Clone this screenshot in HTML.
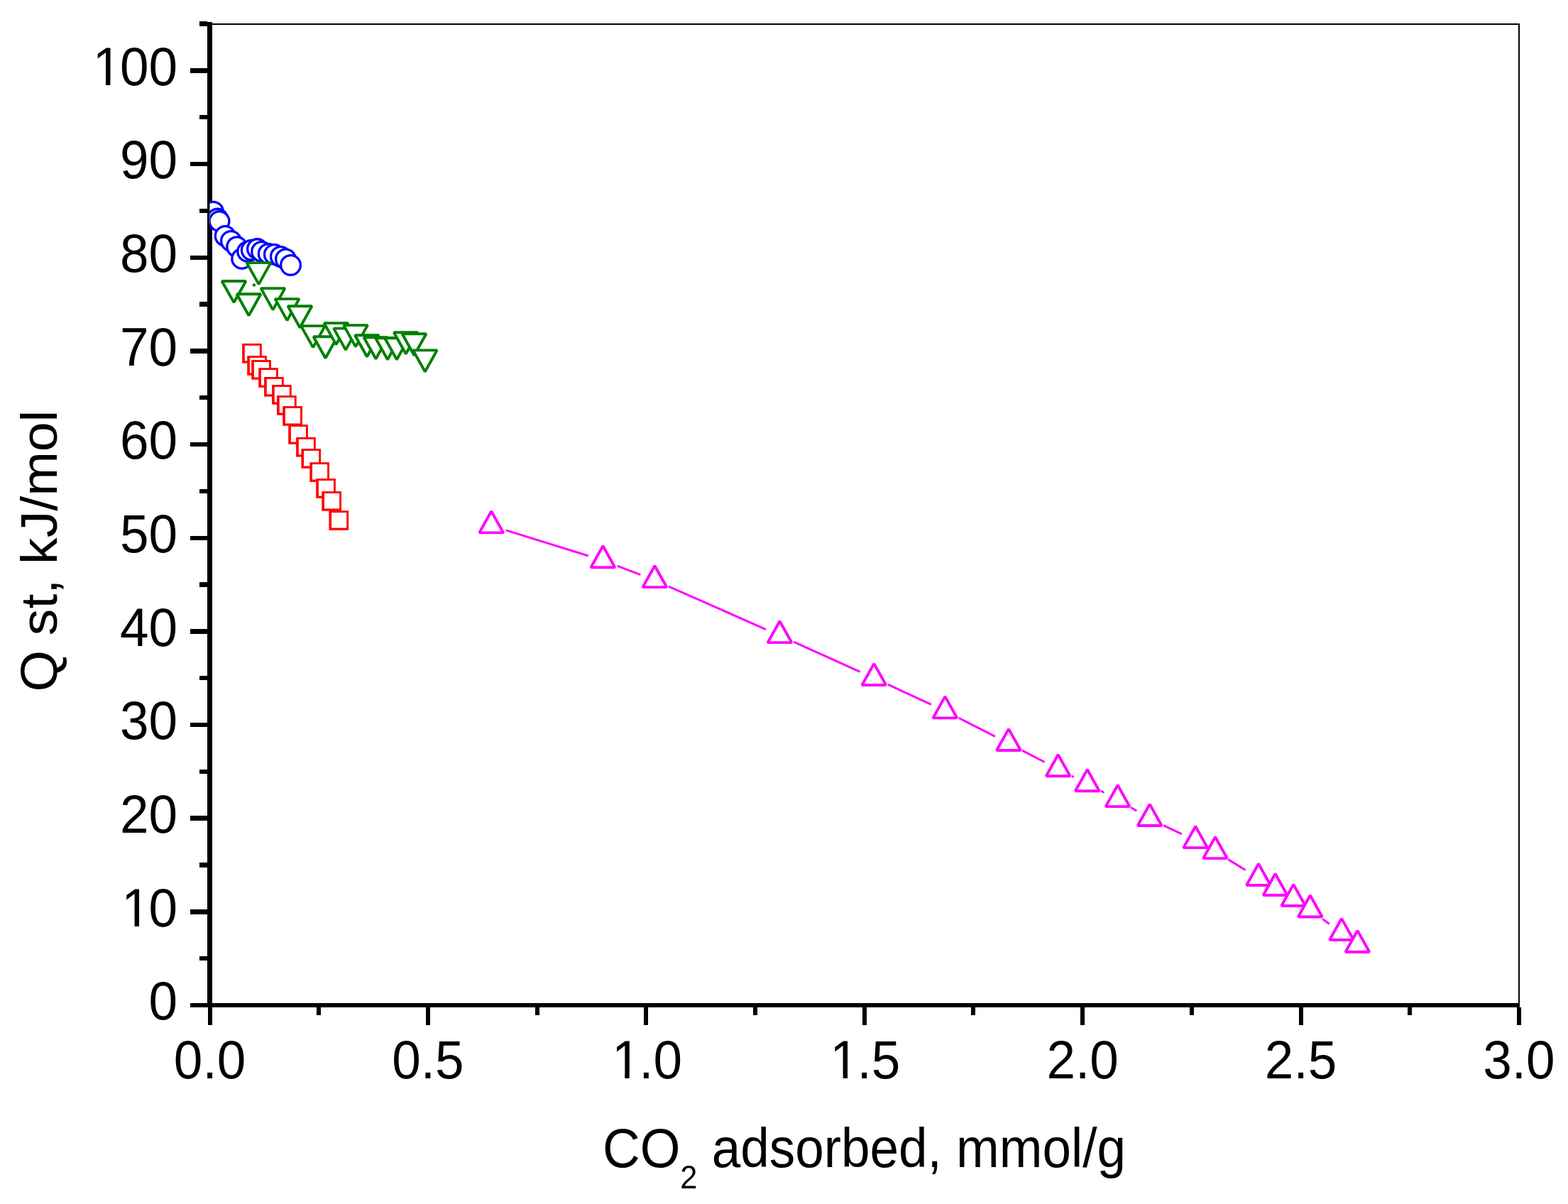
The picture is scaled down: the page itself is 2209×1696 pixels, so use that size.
<!DOCTYPE html>
<html><head><meta charset="utf-8"><style>
html,body{margin:0;padding:0;background:#fff;}
svg{display:block;}
</style></head><body>
<svg width="2209" height="1696" viewBox="0 0 2209 1696">
<rect width="2209" height="1696" fill="#fff"/>
<defs><clipPath id="pa"><rect x="295.5" y="34" width="1845" height="1382"/></clipPath></defs>
<g fill="#000" shape-rendering="crispEdges">
<rect x="292" y="31" width="7" height="1388"/>
<rect x="292" y="1413" width="1849" height="6"/>
<rect x="299" y="33" width="1842" height="2"/>
<rect x="2139" y="33" width="2" height="1383"/>
<rect x="268" y="1412.8" width="24" height="6.4"/>
<rect x="281" y="1346.97" width="11" height="6.4"/>
<rect x="268" y="1281.14" width="24" height="6.4"/>
<rect x="281" y="1215.31" width="11" height="6.4"/>
<rect x="268" y="1149.48" width="24" height="6.4"/>
<rect x="281" y="1083.65" width="11" height="6.4"/>
<rect x="268" y="1017.82" width="24" height="6.4"/>
<rect x="281" y="951.99" width="11" height="6.4"/>
<rect x="268" y="886.16" width="24" height="6.4"/>
<rect x="281" y="820.33" width="11" height="6.4"/>
<rect x="268" y="754.5" width="24" height="6.4"/>
<rect x="281" y="688.67" width="11" height="6.4"/>
<rect x="268" y="622.84" width="24" height="6.4"/>
<rect x="281" y="557.01" width="11" height="6.4"/>
<rect x="268" y="491.18" width="24" height="6.4"/>
<rect x="281" y="425.35" width="11" height="6.4"/>
<rect x="268" y="359.52" width="24" height="6.4"/>
<rect x="281" y="293.69" width="11" height="6.4"/>
<rect x="268" y="227.86" width="24" height="6.4"/>
<rect x="281" y="162.03" width="11" height="6.4"/>
<rect x="268" y="96.2" width="24" height="6.4"/>
<rect x="281" y="30.37" width="11" height="6.4"/>
<rect x="292.5" y="1419" width="6" height="25"/>
<rect x="446.2" y="1419" width="6" height="11"/>
<rect x="599.9" y="1419" width="6" height="25"/>
<rect x="753.6" y="1419" width="6" height="11"/>
<rect x="907.3" y="1419" width="6" height="25"/>
<rect x="1061" y="1419" width="6" height="11"/>
<rect x="1214.7" y="1419" width="6" height="25"/>
<rect x="1368.4" y="1419" width="6" height="11"/>
<rect x="1522.1" y="1419" width="6" height="25"/>
<rect x="1675.8" y="1419" width="6" height="11"/>
<rect x="1829.5" y="1419" width="6" height="25"/>
<rect x="1983.2" y="1419" width="6" height="11"/>
<rect x="2136.9" y="1419" width="6" height="25"/>
</g>
<g font-family="'Liberation Sans', Arial, sans-serif" font-size="74" fill="#000">
<g transform="translate(250 1436.4) scale(0.985 1.02)"><text x="-41.16" y="0">0</text></g>
<g transform="translate(250 1304.74) scale(0.985 1.02)"><text x="-82.31" y="0" dx="2.3 -2.3">10</text><rect x="-75.17" y="-6.03" width="13.77" height="7.03" fill="#fff"/><rect x="-54.86" y="-6.03" width="13.19" height="7.03" fill="#fff"/></g>
<g transform="translate(250 1173.08) scale(0.985 1.02)"><text x="-82.31" y="0">20</text></g>
<g transform="translate(250 1041.42) scale(0.985 1.02)"><text x="-82.31" y="0">30</text></g>
<g transform="translate(250 909.76) scale(0.985 1.02)"><text x="-82.31" y="0">40</text></g>
<g transform="translate(250 778.1) scale(0.985 1.02)"><text x="-82.31" y="0">50</text></g>
<g transform="translate(250 646.44) scale(0.985 1.02)"><text x="-82.31" y="0">60</text></g>
<g transform="translate(250 514.78) scale(0.985 1.02)"><text x="-82.31" y="0">70</text></g>
<g transform="translate(250 383.12) scale(0.985 1.02)"><text x="-82.31" y="0">80</text></g>
<g transform="translate(250 251.46) scale(0.985 1.02)"><text x="-82.31" y="0">90</text></g>
<g transform="translate(250 119.8) scale(0.985 1.02)"><text x="-123.47" y="0" dx="2.3 -2.3 0">100</text><rect x="-116.33" y="-6.03" width="13.77" height="7.03" fill="#fff"/><rect x="-96.02" y="-6.03" width="13.19" height="7.03" fill="#fff"/></g>
<g transform="translate(295.5 1519) scale(0.985 1.02)"><text x="-51.44" y="0">0.0</text></g>
<g transform="translate(602.9 1519) scale(0.985 1.02)"><text x="-51.44" y="0">0.5</text></g>
<g transform="translate(910.3 1519) scale(0.985 1.02)"><text x="-51.44" y="0" dx="2.3 -2.3 0">1.0</text><rect x="-44.3" y="-6.03" width="13.77" height="7.03" fill="#fff"/><rect x="-23.99" y="-6.03" width="13.19" height="7.03" fill="#fff"/></g>
<g transform="translate(1217.7 1519) scale(0.985 1.02)"><text x="-51.44" y="0" dx="2.3 -2.3 0">1.5</text><rect x="-44.3" y="-6.03" width="13.77" height="7.03" fill="#fff"/><rect x="-23.99" y="-6.03" width="13.19" height="7.03" fill="#fff"/></g>
<g transform="translate(1525.1 1519) scale(0.985 1.02)"><text x="-51.44" y="0">2.0</text></g>
<g transform="translate(1832.5 1519) scale(0.985 1.02)"><text x="-51.44" y="0">2.5</text></g>
<g transform="translate(2139.9 1519) scale(0.985 1.02)"><text x="-51.44" y="0">3.0</text></g>
<text transform="translate(849 1644) scale(0.985 1.05)">CO<tspan font-size="44" dy="29">2</tspan><tspan dy="-29"> adsorbed, mmol/g</tspan></text>
<text transform="translate(79.5 974.5) rotate(-90) scale(1.016 0.985)">Q st, kJ/mol</text>
</g>
<g clip-path="url(#pa)">
<circle cx="300.5" cy="298.2" r="13.85" fill="#fff" stroke="#00f" stroke-width="3.3"/>
<circle cx="306.5" cy="308" r="13.85" fill="#fff" stroke="#00f" stroke-width="3.3"/>
<circle cx="309" cy="311.6" r="13.85" fill="#fff" stroke="#00f" stroke-width="3.3"/>
<circle cx="317.2" cy="332.4" r="13.85" fill="#fff" stroke="#00f" stroke-width="3.3"/>
<circle cx="325.5" cy="339.5" r="13.85" fill="#fff" stroke="#00f" stroke-width="3.3"/>
<circle cx="333.7" cy="347.7" r="13.85" fill="#fff" stroke="#00f" stroke-width="3.3"/>
<circle cx="340.7" cy="364.4" r="13.85" fill="#fff" stroke="#00f" stroke-width="3.3"/>
<circle cx="348.7" cy="354.4" r="13.85" fill="#fff" stroke="#00f" stroke-width="3.3"/>
<circle cx="354.3" cy="352.3" r="13.85" fill="#fff" stroke="#00f" stroke-width="3.3"/>
<circle cx="362.5" cy="350.6" r="13.85" fill="#fff" stroke="#00f" stroke-width="3.3"/>
<circle cx="368.6" cy="354.4" r="13.85" fill="#fff" stroke="#00f" stroke-width="3.3"/>
<circle cx="378.2" cy="357.4" r="13.85" fill="#fff" stroke="#00f" stroke-width="3.3"/>
<circle cx="386.4" cy="358.4" r="13.85" fill="#fff" stroke="#00f" stroke-width="3.3"/>
<circle cx="395.4" cy="361.5" r="13.85" fill="#fff" stroke="#00f" stroke-width="3.3"/>
<circle cx="402.5" cy="365" r="13.85" fill="#fff" stroke="#00f" stroke-width="3.3"/>
<circle cx="409.5" cy="373.5" r="13.85" fill="#fff" stroke="#00f" stroke-width="3.3"/>
<rect x="341.1" y="483.9" width="27.7" height="27.7" fill="#f00"/><rect x="344.8" y="486.8" width="21.1" height="21.5" fill="#fff"/>
<rect x="348.2" y="501.1" width="27.7" height="27.7" fill="#f00"/><rect x="351.9" y="504" width="21.1" height="21.5" fill="#fff"/>
<rect x="354.2" y="507.1" width="27.7" height="27.7" fill="#f00"/><rect x="357.9" y="510" width="21.1" height="21.5" fill="#fff"/>
<rect x="364.2" y="518.2" width="27.7" height="27.7" fill="#f00"/><rect x="367.9" y="521.1" width="21.1" height="21.5" fill="#fff"/>
<rect x="372.1" y="531" width="27.7" height="27.7" fill="#f00"/><rect x="375.8" y="533.9" width="21.1" height="21.5" fill="#fff"/>
<rect x="383.1" y="542.1" width="27.7" height="27.7" fill="#f00"/><rect x="386.8" y="545" width="21.1" height="21.5" fill="#fff"/>
<rect x="390" y="557.1" width="27.7" height="27.7" fill="#f00"/><rect x="393.7" y="560" width="21.1" height="21.5" fill="#fff"/>
<rect x="398.2" y="572.1" width="27.7" height="27.7" fill="#f00"/><rect x="401.9" y="575" width="21.1" height="21.5" fill="#fff"/>
<rect x="406.2" y="598.1" width="27.7" height="27.7" fill="#f00"/><rect x="409.9" y="601" width="21.1" height="21.5" fill="#fff"/>
<rect x="417.1" y="615.9" width="27.7" height="27.7" fill="#f00"/><rect x="420.8" y="618.8" width="21.1" height="21.5" fill="#fff"/>
<rect x="424.4" y="632.1" width="27.7" height="27.7" fill="#f00"/><rect x="428.1" y="635" width="21.1" height="21.5" fill="#fff"/>
<rect x="436.3" y="651.2" width="27.7" height="27.7" fill="#f00"/><rect x="440" y="654.1" width="21.1" height="21.5" fill="#fff"/>
<rect x="445.2" y="674.1" width="27.7" height="27.7" fill="#f00"/><rect x="448.9" y="677" width="21.1" height="21.5" fill="#fff"/>
<rect x="453.3" y="692.1" width="27.7" height="27.7" fill="#f00"/><rect x="457" y="695" width="21.1" height="21.5" fill="#fff"/>
<rect x="463.4" y="719.2" width="27.7" height="27.7" fill="#f00"/><rect x="467.1" y="722.1" width="21.1" height="21.5" fill="#fff"/>
<polygon points="312.6,395.95 346.4,395.95 329.5,426.15" fill="#fff" stroke="#008000" stroke-width="3.9" stroke-linejoin="bevel"/>
<polygon points="333.6,414.25 367.4,414.25 350.5,444.45" fill="#fff" stroke="#008000" stroke-width="3.9" stroke-linejoin="bevel"/>
<polygon points="347.6,370.15 381.4,370.15 364.5,400.35" fill="#fff" stroke="#008000" stroke-width="3.9" stroke-linejoin="bevel"/>
<polygon points="367.6,406.15 401.4,406.15 384.5,436.35" fill="#fff" stroke="#008000" stroke-width="3.9" stroke-linejoin="bevel"/>
<polygon points="387.6,421.15 421.4,421.15 404.5,451.35" fill="#fff" stroke="#008000" stroke-width="3.9" stroke-linejoin="bevel"/>
<polygon points="405.6,431.25 439.4,431.25 422.5,461.45" fill="#fff" stroke="#008000" stroke-width="3.9" stroke-linejoin="bevel"/>
<polygon points="424.1,459.15 457.9,459.15 441,489.35" fill="#fff" stroke="#008000" stroke-width="3.9" stroke-linejoin="bevel"/>
<polygon points="441.6,474.25 475.4,474.25 458.5,504.45" fill="#fff" stroke="#008000" stroke-width="3.9" stroke-linejoin="bevel"/>
<polygon points="456.6,455.15 490.4,455.15 473.5,485.35" fill="#fff" stroke="#008000" stroke-width="3.9" stroke-linejoin="bevel"/>
<polygon points="470.1,462.65 503.9,462.65 487,492.85" fill="#fff" stroke="#008000" stroke-width="3.9" stroke-linejoin="bevel"/>
<polygon points="484.1,458.15 517.9,458.15 501,488.35" fill="#fff" stroke="#008000" stroke-width="3.9" stroke-linejoin="bevel"/>
<polygon points="500.1,472.25 533.9,472.25 517,502.45" fill="#fff" stroke="#008000" stroke-width="3.9" stroke-linejoin="bevel"/>
<polygon points="512.6,475.25 546.4,475.25 529.5,505.45" fill="#fff" stroke="#008000" stroke-width="3.9" stroke-linejoin="bevel"/>
<polygon points="529.1,476.25 562.9,476.25 546,506.45" fill="#fff" stroke="#008000" stroke-width="3.9" stroke-linejoin="bevel"/>
<polygon points="542.1,476.25 575.9,476.25 559,506.45" fill="#fff" stroke="#008000" stroke-width="3.9" stroke-linejoin="bevel"/>
<polygon points="554.9,468.25 588.7,468.25 571.8,498.45" fill="#fff" stroke="#008000" stroke-width="3.9" stroke-linejoin="bevel"/>
<polygon points="566.6,470.25 600.4,470.25 583.5,500.45" fill="#fff" stroke="#008000" stroke-width="3.9" stroke-linejoin="bevel"/>
<polygon points="581.9,493.35 615.7,493.35 598.8,523.55" fill="#fff" stroke="#008000" stroke-width="3.9" stroke-linejoin="bevel"/>
<circle cx="357.9" cy="401.5" r="2.2" fill="#008000"/>
<path d="M712.73 746.89L828.87 783.01M869.48 797.08L902.32 809.62M942.06 826.01L1078.84 886.59M1118.1 904.14L1211.7 946.36M1250.81 964.23L1311.89 992.47M1350.55 1011.27L1401.85 1037.43M1440.08 1057.11L1471.62 1073.49M1509.85 1093.18L1512.65 1094.62M1550.94 1114.19L1555.46 1116.51M1593.06 1137.31L1601.24 1142.19M1639.07 1162.54L1664.83 1174.96M1730.28 1210.62L1754.72 1225.78M1863.1 1294.36L1872.7 1301.44" stroke="#f0f" stroke-width="3" fill="none"/>
<polygon points="692.2,720.15 709.1,750.35 675.3,750.35" fill="#fff" stroke="#f0f" stroke-width="3.9" stroke-linejoin="bevel"/>
<polygon points="849.4,769.05 866.3,799.25 832.5,799.25" fill="#fff" stroke="#f0f" stroke-width="3.9" stroke-linejoin="bevel"/>
<polygon points="922.4,796.95 939.3,827.15 905.5,827.15" fill="#fff" stroke="#f0f" stroke-width="3.9" stroke-linejoin="bevel"/>
<polygon points="1098.5,874.95 1115.4,905.15 1081.6,905.15" fill="#fff" stroke="#f0f" stroke-width="3.9" stroke-linejoin="bevel"/>
<polygon points="1231.3,934.85 1248.2,965.05 1214.4,965.05" fill="#fff" stroke="#f0f" stroke-width="3.9" stroke-linejoin="bevel"/>
<polygon points="1331.4,981.15 1348.3,1011.35 1314.5,1011.35" fill="#fff" stroke="#f0f" stroke-width="3.9" stroke-linejoin="bevel"/>
<polygon points="1421,1026.85 1437.9,1057.05 1404.1,1057.05" fill="#fff" stroke="#f0f" stroke-width="3.9" stroke-linejoin="bevel"/>
<polygon points="1490.7,1063.05 1507.6,1093.25 1473.8,1093.25" fill="#fff" stroke="#f0f" stroke-width="3.9" stroke-linejoin="bevel"/>
<polygon points="1531.8,1084.05 1548.7,1114.25 1514.9,1114.25" fill="#fff" stroke="#f0f" stroke-width="3.9" stroke-linejoin="bevel"/>
<polygon points="1574.6,1105.95 1591.5,1136.15 1557.7,1136.15" fill="#fff" stroke="#f0f" stroke-width="3.9" stroke-linejoin="bevel"/>
<polygon points="1619.7,1132.85 1636.6,1163.05 1602.8,1163.05" fill="#fff" stroke="#f0f" stroke-width="3.9" stroke-linejoin="bevel"/>
<polygon points="1684.2,1163.95 1701.1,1194.15 1667.3,1194.15" fill="#fff" stroke="#f0f" stroke-width="3.9" stroke-linejoin="bevel"/>
<polygon points="1712,1178.95 1728.9,1209.15 1695.1,1209.15" fill="#fff" stroke="#f0f" stroke-width="3.9" stroke-linejoin="bevel"/>
<polygon points="1773,1216.75 1789.9,1246.95 1756.1,1246.95" fill="#fff" stroke="#f0f" stroke-width="3.9" stroke-linejoin="bevel"/>
<polygon points="1796.6,1230.75 1813.5,1260.95 1779.7,1260.95" fill="#fff" stroke="#f0f" stroke-width="3.9" stroke-linejoin="bevel"/>
<polygon points="1822.2,1245.85 1839.1,1276.05 1805.3,1276.05" fill="#fff" stroke="#f0f" stroke-width="3.9" stroke-linejoin="bevel"/>
<polygon points="1845.8,1261.25 1862.7,1291.45 1828.9,1291.45" fill="#fff" stroke="#f0f" stroke-width="3.9" stroke-linejoin="bevel"/>
<polygon points="1890,1293.85 1906.9,1324.05 1873.1,1324.05" fill="#fff" stroke="#f0f" stroke-width="3.9" stroke-linejoin="bevel"/>
<polygon points="1912.4,1310.85 1929.3,1341.05 1895.5,1341.05" fill="#fff" stroke="#f0f" stroke-width="3.9" stroke-linejoin="bevel"/>
</g>
</svg>
</body></html>
